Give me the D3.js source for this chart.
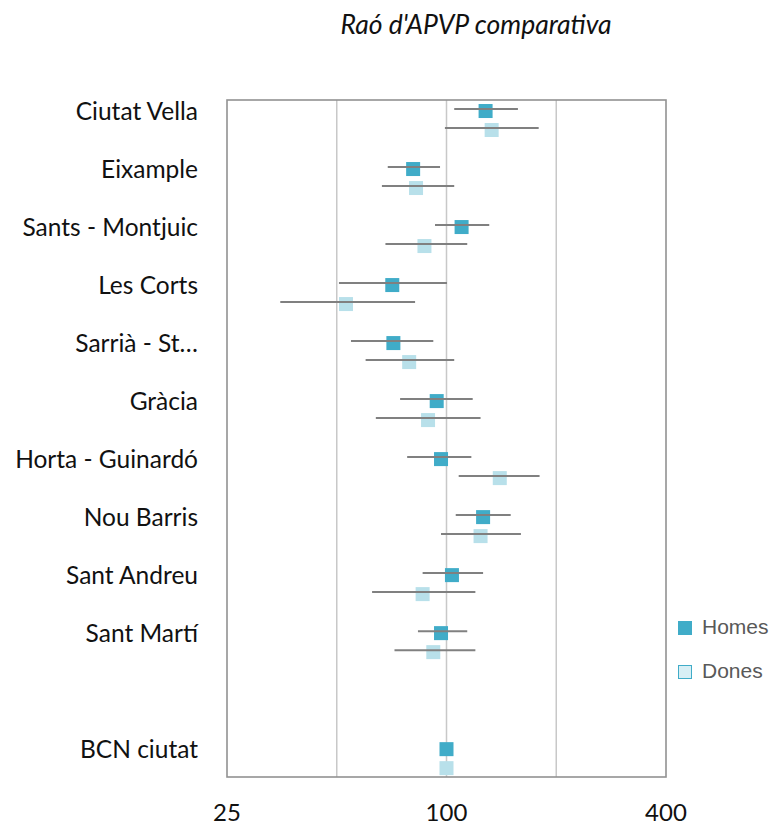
<!DOCTYPE html>
<html lang="ca">
<head>
    <meta charset="UTF-8">
    <title>Raó d'APVP comparativa</title>
    <script src="https://d3js.org/d3.v7.min.js"></script>
    <style>
        body { margin: 0; background: #fff; }
        .cat text { font: 24.5px Lato, sans-serif; fill: #111; }
        .tick-label { font: 24px Lato, sans-serif; fill: #111; }
        .title { font: italic 26.5px Lato, sans-serif; fill: #111; }
        .legend text { font: 21px "Liberation Sans", Arial, sans-serif; fill: #595959; }
    </style>
</head>
<body>
<div id="chart"></div>
<script>
// Districts (top to bottom); an empty slot sits before BCN ciutat
const categories = ["Ciutat Vella", "Eixample", "Sants - Montjuic", "Les Corts", "Sarrià - St…",
    "Gràcia", "Horta - Guinardó", "Nou Barris", "Sant Andreu", "Sant Martí", "", "BCN ciutat"];

// Homes: ratio and interval
const homesValue = [128, 81, 110, 71, 71.5, 94, 96.6, 126, 103.5, 96.6, null, 100];
const homesLow   = [105, 69, 93, 50.7, 54.7, 74.6, 78, 106, 86, 83.5, null, null];
const homesHigh  = [157, 96, 131, 100.3, 92, 118, 117, 150, 126, 114, null, null];

// Dones: ratio and interval
const donesValue = [133, 82.5, 87, 53, 79, 89, 140, 124, 86, 92, null, 100];
const donesLow   = [99, 66.5, 68, 35, 60, 64, 108, 96.6, 62.5, 72, null, null];
const donesHigh  = [179, 105, 114, 82, 105, 124, 180, 160, 120, 120, null, null];

const xTicks = [25, 100, 400];
const gridValues = [50, 100, 200];

const width = 776, height = 828;
const plot = {left: 227, right: 666, top: 100, bottom: 777};

const svg = d3.select("#chart").append("svg")
    .attr("width", width)
    .attr("height", height);

const x = d3.scaleLog().base(2).domain([25, 400]).range([plot.left, plot.right]);
// one unit per category row
const y = d3.scaleLinear().domain([-0.19, 11.48]).range([plot.top, plot.bottom]);
const donesOffset = 19;
const size = 14;

// title
svg.append("text").attr("class", "title")
    .attr("x", 476).attr("y", 34)
    .attr("text-anchor", "middle")
    .text("Raó d'APVP comparativa");

// gridlines
svg.selectAll(".grid")
    .data(gridValues)
    .enter().append("line")
    .attr("x1", d => x(d)).attr("x2", d => x(d))
    .attr("y1", plot.top).attr("y2", plot.bottom)
    .attr("stroke", "#c8c8c8").attr("stroke-width", 1.5);

// plot frame
svg.append("rect")
    .attr("x", plot.left).attr("y", plot.top)
    .attr("width", plot.right - plot.left).attr("height", plot.bottom - plot.top)
    .attr("fill", "none").attr("stroke", "#929292").attr("stroke-width", 1.6);

// x tick labels
svg.selectAll(".tick-label")
    .data(xTicks)
    .enter().append("text")
    .attr("class", "tick-label")
    .attr("x", d => x(d)).attr("y", 821)
    .attr("text-anchor", "middle")
    .text(d => d);

// category labels
const cat = svg.append("g").attr("class", "cat");
cat.selectAll("text")
    .data(categories)
    .enter().append("text")
    .attr("x", 198).attr("y", (d, i) => y(i))
    .attr("dy", "0.35em")
    .attr("text-anchor", "end")
    .text(d => d);

function drawSeries(values, lows, highs, offset, color) {
    const rows = values.map((v, i) => ({i: i, v: v, lo: lows[i], hi: highs[i]}))
        .filter(d => d.v != null);
    svg.append("g").selectAll("rect")
        .data(rows)
        .enter().append("rect")
        .attr("x", d => x(d.v) - size / 2)
        .attr("y", d => y(d.i) + offset - size / 2)
        .attr("width", size).attr("height", size)
        .attr("fill", color);
    svg.append("g").selectAll("line")
        .data(rows.filter(d => d.lo != null))
        .enter().append("line")
        .attr("x1", d => x(d.lo)).attr("x2", d => x(d.hi))
        .attr("y1", d => y(d.i) + offset - 2).attr("y2", d => y(d.i) + offset - 2)
        .attr("stroke", "#808080").attr("stroke-width", 2);
}

drawSeries(homesValue, homesLow, homesHigh, 0, "#40acc8");
drawSeries(donesValue, donesLow, donesHigh, donesOffset, "#b8e0ea");

// legend
const legend = svg.append("g").attr("class", "legend");
legend.append("rect").attr("x", 678).attr("y", 621).attr("width", 14).attr("height", 14)
    .attr("fill", "#40acc8");
legend.append("text").attr("x", 702).attr("y", 627).attr("dy", "0.35em").text("Homes");
legend.append("rect").attr("x", 678.5).attr("y", 665.5).attr("width", 13).attr("height", 13)
    .attr("fill", "#d8eff5").attr("stroke", "#40acc8").attr("stroke-width", 1);
legend.append("text").attr("x", 702).attr("y", 671).attr("dy", "0.35em").text("Dones");
</script>
</body>
</html>
